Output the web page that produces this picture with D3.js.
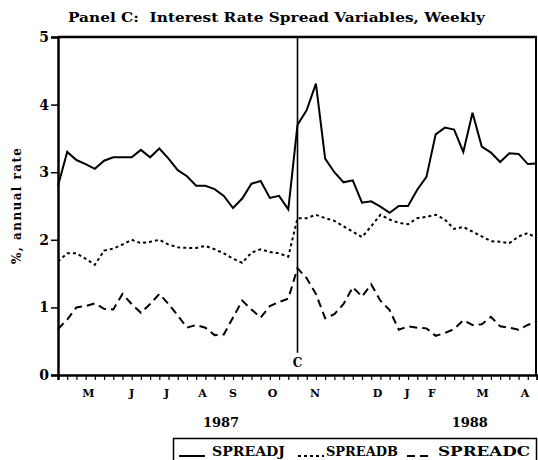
<!DOCTYPE html>
<html>
<head>
<meta charset="utf-8">
<script src="https://cdn.jsdelivr.net/npm/d3@7"></script>
<style>
    body { margin: 0; background: #fff; }
    svg { display: block; }
    text { font-family: "DejaVu Serif", "Liberation Serif", serif; font-weight: bold; fill: #000; }
</style>
</head>
<body>
<div id="chart"></div>
<script>
// Weekly observations, late April 1987 to mid April 1988 (week index 0..52)
const spreadJ = [2.80, 3.30, 3.18, 3.12, 3.05, 3.17, 3.22, 3.22, 3.22, 3.33,
    3.22, 3.35, 3.20, 3.03, 2.94, 2.80, 2.80, 2.75, 2.65, 2.47,
    2.61, 2.83, 2.87, 2.62, 2.65, 2.45, 3.70, 3.92, 4.31, 3.20,
    3.00, 2.85, 2.88, 2.55, 2.57, 2.49, 2.40, 2.50, 2.50, 2.74,
    2.93, 3.56, 3.66, 3.63, 3.30, 3.88, 3.38, 3.29, 3.15, 3.28,
    3.27, 3.12, 3.13];

const spreadB = [1.68, 1.80, 1.80, 1.72, 1.63, 1.84, 1.87, 1.93, 2.00, 1.95,
    1.97, 2.00, 1.93, 1.89, 1.88, 1.88, 1.91, 1.86, 1.80, 1.72,
    1.66, 1.81, 1.86, 1.82, 1.80, 1.75, 2.32, 2.32, 2.37, 2.32,
    2.28, 2.20, 2.12, 2.04, 2.20, 2.37, 2.30, 2.25, 2.23, 2.32,
    2.34, 2.37, 2.30, 2.16, 2.19, 2.12, 2.05, 1.98, 1.97, 1.95,
    2.05, 2.10, 2.02];

const spreadC = [0.68, 0.82, 1.00, 1.02, 1.06, 0.98, 0.97, 1.20, 1.05, 0.92,
    1.05, 1.20, 1.05, 0.88, 0.70, 0.74, 0.70, 0.59, 0.60, 0.85,
    1.10, 0.97, 0.85, 1.02, 1.08, 1.13, 1.58, 1.43, 1.20, 0.84,
    0.90, 1.05, 1.30, 1.16, 1.34, 1.10, 0.96, 0.67, 0.72, 0.70,
    0.69, 0.58, 0.62, 0.68, 0.81, 0.74, 0.75, 0.86, 0.72, 0.70,
    0.67, 0.74, 0.80];

// Month labels and the week index they sit under
const monthLabels = ["M", "J", "J", "A", "S", "O", "N", "D", "J", "F", "M", "A"];
const monthWeeks = [3.3, 8.0, 11.8, 15.7, 19.0, 23.3, 27.9, 34.7, 37.9, 40.6, 46.1, 50.7];
const yearLabels = ["1987", "1988"];
const yearWeeks = [17.7, 44.7];
const yTicks = [0, 1, 2, 3, 4, 5];

// Crash marker (October 19, 1987)
const crashWeek = 26;
const crashLabel = "C";

const seriesNames = ["SPREADJ", "SPREADB", "SPREADC"];
const seriesDash = [null, "3,3", "8,5"];

const width = 538;
const height = 460;
const margin = { top: 37, right: 1, bottom: 85, left: 58 };

const svg = d3.select("#chart")
    .append("svg")
    .attr("width", width)
    .attr("height", height);

const x = d3.scaleLinear()
    .domain([0, spreadJ.length - 1])
    .range([margin.left, width - margin.right]);

const y = d3.scaleLinear()
    .domain([0, 5])
    .range([height - margin.bottom, margin.top]);

// Title
svg.append("text")
    .attr("x", 68)
    .attr("y", 22)
    .attr("textLength", 417)
    .attr("lengthAdjust", "spacingAndGlyphs")
    .style("font-size", "13px")
    .style("white-space", "pre")
    .text("Panel C:  Interest Rate Spread Variables, Weekly");

// Y axis
const yAxis = svg.append("g")
    .attr("transform", `translate(${margin.left},0)`)
    .call(d3.axisLeft(y).tickValues(yTicks).tickFormat(d3.format("d")).tickSize(7).tickPadding(2));
yAxis.select(".domain").attr("stroke-width", 2.5);
yAxis.selectAll(".tick line").attr("stroke-width", 1.5);
yAxis.selectAll(".tick text")
    .style("font-size", "14px")
    .style("font-family", "'DejaVu Serif', serif");

// Y axis title
svg.append("text")
    .attr("transform", `translate(21,${(y(0) + y(5)) / 2}) rotate(-90)`)
    .attr("text-anchor", "middle")
    .attr("textLength", 116)
    .attr("lengthAdjust", "spacing")
    .style("font-size", "12px")
    .text("%, annual rate");

// Bottom axis with weekly ticks
const xAxis = svg.append("g")
    .attr("transform", `translate(0,${y(0)})`)
    .call(d3.axisBottom(x).tickValues(d3.range(spreadJ.length)).tickSize(5).tickFormat(""));
xAxis.select(".domain").attr("stroke-width", 2.5);
xAxis.selectAll(".tick line").attr("stroke-width", 1.2);

// Top and right frame
svg.append("line")
    .attr("x1", x(0)).attr("x2", x(spreadJ.length - 1))
    .attr("y1", y(5)).attr("y2", y(5))
    .attr("stroke", "#000").attr("stroke-width", 2.5);
svg.append("line")
    .attr("x1", x(spreadJ.length - 1) - 1).attr("x2", x(spreadJ.length - 1) - 1)
    .attr("y1", y(5)).attr("y2", y(0))
    .attr("stroke", "#000").attr("stroke-width", 2);

// Month and year labels
svg.selectAll(".month")
    .data(monthLabels)
    .enter()
    .append("text")
    .attr("class", "month")
    .attr("x", (d, i) => x(monthWeeks[i]))
    .attr("y", y(0) + 22)
    .attr("text-anchor", "middle")
    .style("font-size", "11px")
    .text(d => d);

svg.selectAll(".year")
    .data(yearLabels)
    .enter()
    .append("text")
    .attr("class", "year")
    .attr("x", (d, i) => x(yearWeeks[i]))
    .attr("y", y(0) + 52)
    .attr("text-anchor", "middle")
    .style("font-size", "13px")
    .text(d => d);

// Crash marker line
svg.append("line")
    .attr("x1", x(crashWeek)).attr("x2", x(crashWeek))
    .attr("y1", y(5)).attr("y2", y(0.33))
    .attr("stroke", "#000").attr("stroke-width", 1.6);
svg.append("text")
    .attr("x", x(crashWeek))
    .attr("y", y(0) - 8)
    .attr("text-anchor", "middle")
    .style("font-size", "12px")
    .text(crashLabel);

// Series lines
const line = d3.line()
    .x((d, i) => x(i))
    .y(d => y(d));

[spreadJ, spreadB, spreadC].forEach((values, k) => {
    svg.append("path")
        .datum(values)
        .attr("fill", "none")
        .attr("stroke", "#000")
        .attr("stroke-width", 2)
        .attr("stroke-dasharray", seriesDash[k])
        .attr("d", line);
});

// Legend box at the bottom
const legend = svg.append("g");
legend.append("rect")
    .attr("x", 173.5)
    .attr("y", 438.5)
    .attr("width", 363)
    .attr("height", 30)
    .attr("fill", "none")
    .attr("stroke", "#000")
    .attr("stroke-width", 1.5);

const legendLineX = [179, 298, 407];
const legendTextX = [212, 326, 438];
const legendTextLen = [73, 72, 92];

seriesNames.forEach((name, k) => {
    legend.append("line")
        .attr("x1", legendLineX[k]).attr("x2", legendLineX[k] + 26)
        .attr("y1", 456).attr("y2", 456)
        .attr("stroke", "#000")
        .attr("stroke-width", 2)
        .attr("stroke-dasharray", seriesDash[k]);
    legend.append("text")
        .attr("x", legendTextX[k])
        .attr("y", 456)
        .attr("textLength", legendTextLen[k])
        .attr("lengthAdjust", "spacingAndGlyphs")
        .style("font-size", "13px")
        .text(name);
});
</script>
</body>
</html>
